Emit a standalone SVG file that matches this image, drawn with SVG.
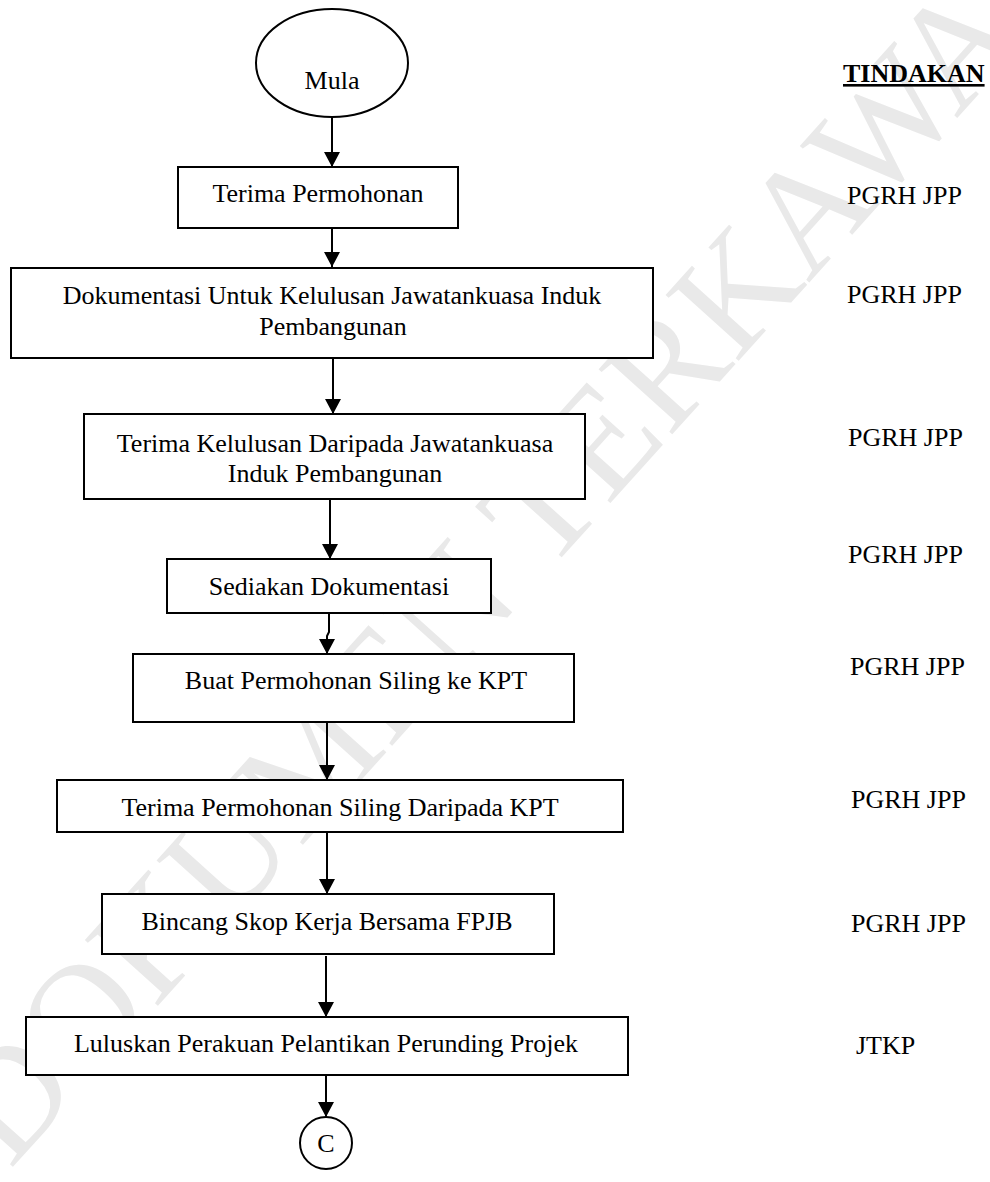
<svg xmlns="http://www.w3.org/2000/svg" width="990" height="1182" viewBox="0 0 990 1182">
<style>
text{font-family:"Liberation Serif","Times New Roman",serif;font-size:26px;fill:#000}
.c{text-anchor:middle}
.box{fill:#fff;stroke:#000;stroke-width:2}
.ln{fill:none;stroke:#000;stroke-width:2;marker-end:url(#ah)}
.wm{font-size:150px;fill:#e9e9e9}
</style>
<defs>
<marker id="ah" markerUnits="userSpaceOnUse" markerWidth="16" markerHeight="16" refX="15" refY="8" orient="auto">
<path d="M0,0 L15,8 L0,16 z" fill="#000"/>
</marker>
</defs>
<rect width="990" height="1182" fill="#fff"/>
<text class="wm" transform="translate(10,1170) rotate(-48)">DOKUMEN TERKAWAL</text>
<g id="connectors">
<line class="ln" x1="332" y1="117" x2="332" y2="167"/>
<line class="ln" x1="332" y1="228" x2="332" y2="267"/>
<line class="ln" x1="333" y1="358" x2="333" y2="414"/>
<line class="ln" x1="330" y1="499" x2="330" y2="559"/>
<path class="ln" d="M329,613 L329,632 L327,636 L327,654"/>
<line class="ln" x1="327" y1="722" x2="327" y2="780"/>
<line class="ln" x1="327" y1="832" x2="327" y2="894"/>
<line class="ln" x1="326" y1="956" x2="326" y2="1017"/>
<line class="ln" x1="326" y1="1075" x2="326" y2="1117"/>
</g>
<g id="mula">
<ellipse class="box" cx="332" cy="63" rx="76" ry="54"/>
<text class="c" x="332" y="89">Mula</text>
</g>
<g id="terima-permohonan">
<rect class="box" x="178" y="167" width="280" height="61"/>
<text class="c" x="318" y="202">Terima Permohonan</text>
</g>
<g id="dokumentasi">
<rect class="box" x="11" y="268" width="642" height="90"/>
<text class="c" x="332" y="304">Dokumentasi Untuk Kelulusan Jawatankuasa Induk</text>
<text class="c" x="333" y="335">Pembangunan</text>
</g>
<g id="terima-kelulusan">
<rect class="box" x="84" y="414" width="501" height="85"/>
<text class="c" x="335" y="452">Terima Kelulusan Daripada Jawatankuasa</text>
<text class="c" x="335" y="482">Induk Pembangunan</text>
</g>
<g id="sediakan">
<rect class="box" x="167" y="559" width="324" height="54"/>
<text class="c" x="329" y="595">Sediakan Dokumentasi</text>
</g>
<g id="buat-permohonan">
<rect class="box" x="133" y="654" width="441" height="68"/>
<text class="c" x="356" y="689">Buat Permohonan Siling ke KPT</text>
</g>
<g id="terima-siling">
<rect class="box" x="57" y="780" width="566" height="52"/>
<text class="c" x="340" y="816">Terima Permohonan Siling Daripada KPT</text>
</g>
<g id="bincang">
<rect class="box" x="102" y="894" width="452" height="60"/>
<text class="c" x="327" y="930">Bincang Skop Kerja Bersama FPJB</text>
</g>
<g id="luluskan">
<rect class="box" x="26" y="1017" width="602" height="58"/>
<text class="c" x="326" y="1052">Luluskan Perakuan Pelantikan Perunding Projek</text>
</g>
<g id="connector-c">
<ellipse class="box" cx="326" cy="1143" rx="26" ry="26"/>
<text class="c" x="326" y="1152">C</text>
</g>
<g id="tindakan">
<text x="843" y="82" font-weight="bold" text-decoration="underline">TINDAKAN</text>
<text x="847" y="204">PGRH JPP</text>
<text x="847" y="303">PGRH JPP</text>
<text x="848" y="446">PGRH JPP</text>
<text x="848" y="563">PGRH JPP</text>
<text x="850" y="675">PGRH JPP</text>
<text x="851" y="808">PGRH JPP</text>
<text x="851" y="932">PGRH JPP</text>
<text x="856" y="1054">JTKP</text>
</g>
</svg>
